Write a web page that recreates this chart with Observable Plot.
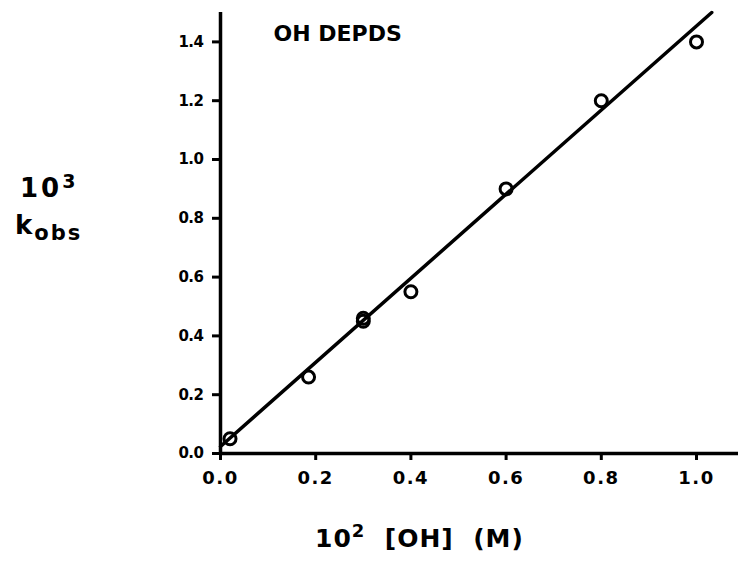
<!DOCTYPE html>
<html>
<head>
<meta charset="utf-8">
<script src="https://cdn.jsdelivr.net/npm/d3@7"></script>
<script src="https://cdn.jsdelivr.net/npm/@observablehq/plot@0.6"></script>
<style>
  html, body { margin: 0; padding: 0; background: #fff; }
  #chart { width: 738px; height: 561px; }
</style>
</head>
<body>
<div id="chart"></div>
<script>
// ---- data ----
const ohConc = [0.02, 0.185, 0.30, 0.30, 0.40, 0.60, 0.80, 1.00];   // 10^2 [OH] (M)
const kObs   = [0.05, 0.26, 0.46, 0.45, 0.55, 0.90, 1.20, 1.40];    // 10^3 kobs
const fitX = [0, 1.032];
const fitY = [0.024, 1.50];
const xTicks = [0.0, 0.2, 0.4, 0.6, 0.8, 1.0];
const yTicks = [0.0, 0.2, 0.4, 0.6, 0.8, 1.0, 1.2, 1.4];
const panelLabel = "OH DEPDS";

const points = ohConc.map((x, i) => ({x, y: kObs[i]}));
const fit = fitX.map((x, i) => ({x, y: fitY[i]}));

const font = "DejaVu Sans, Liberation Sans, Arial, sans-serif";

const svg = Plot.plot({
  width: 738,
  height: 561,
  marginLeft: 220,
  marginRight: 0,
  marginTop: 12,
  marginBottom: 108,
  x: {domain: [0, 518 / 476]},
  y: {domain: [0, 1.5]},
  style: {fontFamily: font, fontWeight: "bold", color: "black", background: "white", overflow: "visible"},
  marks: [
    Plot.axisY(yTicks, {tickSize: 8, tickPadding: 9, tickFormat: d3.format(".1f"), fontSize: 15, strokeWidth: 3, label: null}),
    Plot.axisX(xTicks, {tickSize: 7, tickPadding: 11, tickFormat: d3.format(".1f"), fontSize: 18, strokeWidth: 3, label: null}),
    Plot.ruleX([0], {stroke: "black", strokeWidth: 3.5}),
    Plot.ruleY([0], {stroke: "black", strokeWidth: 3.5}),
    Plot.line(fit, {x: "x", y: "y", stroke: "black", strokeWidth: 3.5}),
    Plot.dot(points, {x: "x", y: "y", r: 6, stroke: "black", strokeWidth: 3, fill: "none"}),
    Plot.text([panelLabel], {frameAnchor: "top-left", textAnchor: "start", lineAnchor: "top", dx: 53, dy: 13, fontSize: 22, fontWeight: "bold", fill: "black"})
  ]
});

const s = d3.select(svg);
s.selectAll("g[aria-label='x-axis tick label'] text").attr("letter-spacing", 1.5).attr("font-size", 18);
s.selectAll("g[aria-label='y-axis tick label'] text").attr("letter-spacing", -0.5).attr("font-size", 15);

// y-axis title: 10^3 k_obs
const yt1 = s.append("text").attr("x", 20).attr("y", 197).attr("text-anchor", "start")
  .attr("font-family", font).attr("font-weight", "bold").attr("font-size", 26).attr("letter-spacing", 3);
yt1.append("tspan").text("10");
yt1.append("tspan").attr("font-size", 19).attr("dy", -9).text("3");
const yt2 = s.append("text").attr("x", 15).attr("y", 234).attr("text-anchor", "start")
  .attr("font-family", font).attr("font-weight", "bold").attr("font-size", 26).attr("letter-spacing", 2);
yt2.append("tspan").text("k");
yt2.append("tspan").attr("font-size", 21).attr("dy", 6).text("obs");

// x-axis title: 10^2 [OH] (M)
const xt = s.append("text").attr("x", 315).attr("y", 547).attr("text-anchor", "start")
  .attr("font-family", font).attr("font-weight", "bold").attr("font-size", 25).attr("letter-spacing", 1)
  .attr("xml:space", "preserve").style("white-space", "pre");
xt.append("tspan").text("10");
xt.append("tspan").attr("font-size", 18).attr("dy", -10).text("2");
xt.append("tspan").attr("dy", 10).text("  [OH]  (M)");

document.getElementById("chart").appendChild(svg);
</script>
</body>
</html>
